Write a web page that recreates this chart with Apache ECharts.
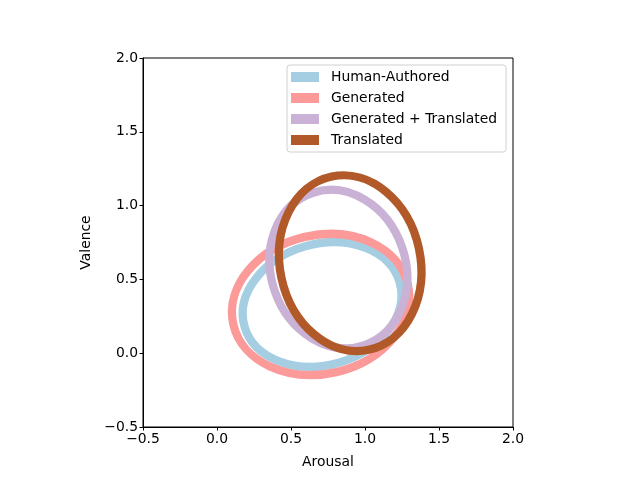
<!DOCTYPE html>
<html>
<head>
<meta charset="utf-8">
<script src="https://cdn.jsdelivr.net/npm/echarts@6/dist/echarts.min.js"></script>
<style>
    html, body { margin: 0; padding: 0; background: #fff; }
    #chart { width: 640px; height: 480px; }
</style>
</head>
<body>
<div id="chart"></div>
<script>
// one ellipse per group: centre, full width / height, rotation (deg, ccw)
const groups = ['Human-Authored', 'Generated', 'Generated + Translated', 'Translated'];
const centerX = [0.71, 0.70, 0.82, 0.90];
const centerY = [0.33, 0.33, 0.57, 0.61];
const widths = [1.09, 1.21, 0.91, 0.95];
const heights = [0.82, 0.94, 1.09, 1.20];
const angles = [16, 13, 19, 12];
const colors = ['#a6cee3', '#fb9a99', '#cab2d6', '#b15928'];
const ticks = [-0.5, 0.0, 0.5, 1.0, 1.5, 2.0];

const fmt = v => v.toFixed(1).replace('-', '\u2212');

const chart = echarts.init(document.getElementById('chart'));

const series = groups.map((name, i) => ({
    name: name,
    type: 'custom',
    clip: false,
    encode: { x: 0, y: 1 },
    data: [[centerX[i], centerY[i], widths[i], heights[i], angles[i]]],
    itemStyle: { color: colors[i] },
    renderItem: (params, api) => {
        const c = api.coord([api.value(0), api.value(1)]);
        const s = api.size([api.value(2), api.value(3)]);
        return {
            type: 'ellipse',
            x: c[0],
            y: c[1],
            rotation: api.value(4) * Math.PI / 180,
            shape: { cx: 0, cy: 0, rx: s[0] / 2, ry: s[1] / 2 },
            style: { fill: 'none', stroke: colors[i], lineWidth: 8.3 }
        };
    }
}));

const axisCommon = {
    type: 'value',
    min: ticks[0],
    max: ticks[ticks.length - 1],
    interval: 0.5,
    nameLocation: 'middle',
    nameTextStyle: { color: '#000', fontSize: 13.9, fontFamily: 'DejaVu Sans' },
    axisLine: { show: true, onZero: false, lineStyle: { color: '#000', width: 1 } },
    axisTick: { show: true, length: 3.5, lineStyle: { color: '#000', width: 1 } },
    axisLabel: { color: '#000', fontSize: 13.9, fontFamily: 'DejaVu Sans', margin: 5, formatter: fmt },
    splitLine: { show: false }
};

chart.setOption({
    animation: false,
    grid: {
        left: 143, right: 127, top: 58, bottom: 53,
        show: true, borderColor: '#000', borderWidth: 1
    },
    legend: {
        orient: 'vertical',
        left: 287,
        top: 65,
        padding: [5, 9, 5, 4],
        itemWidth: 28,
        itemHeight: 10,
        itemGap: 7,
        icon: 'rect',
        borderColor: '#d0d0d0',
        borderWidth: 1,
        borderRadius: 3,
        backgroundColor: 'rgba(255,255,255,0.8)',
        textStyle: {
            color: '#000', fontSize: 13.9, fontFamily: 'DejaVu Sans',
            lineHeight: 14, padding: [0, 0, 0, 7]
        },
        data: groups.map((name, i) => ({ name: name, itemStyle: { color: colors[i] } }))
    },
    xAxis: Object.assign({}, axisCommon, { name: 'Arousal', nameGap: 28 }),
    yAxis: Object.assign({}, axisCommon, { name: 'Valence', nameGap: 50 }),
    series: series
});
</script>
</body>
</html>
